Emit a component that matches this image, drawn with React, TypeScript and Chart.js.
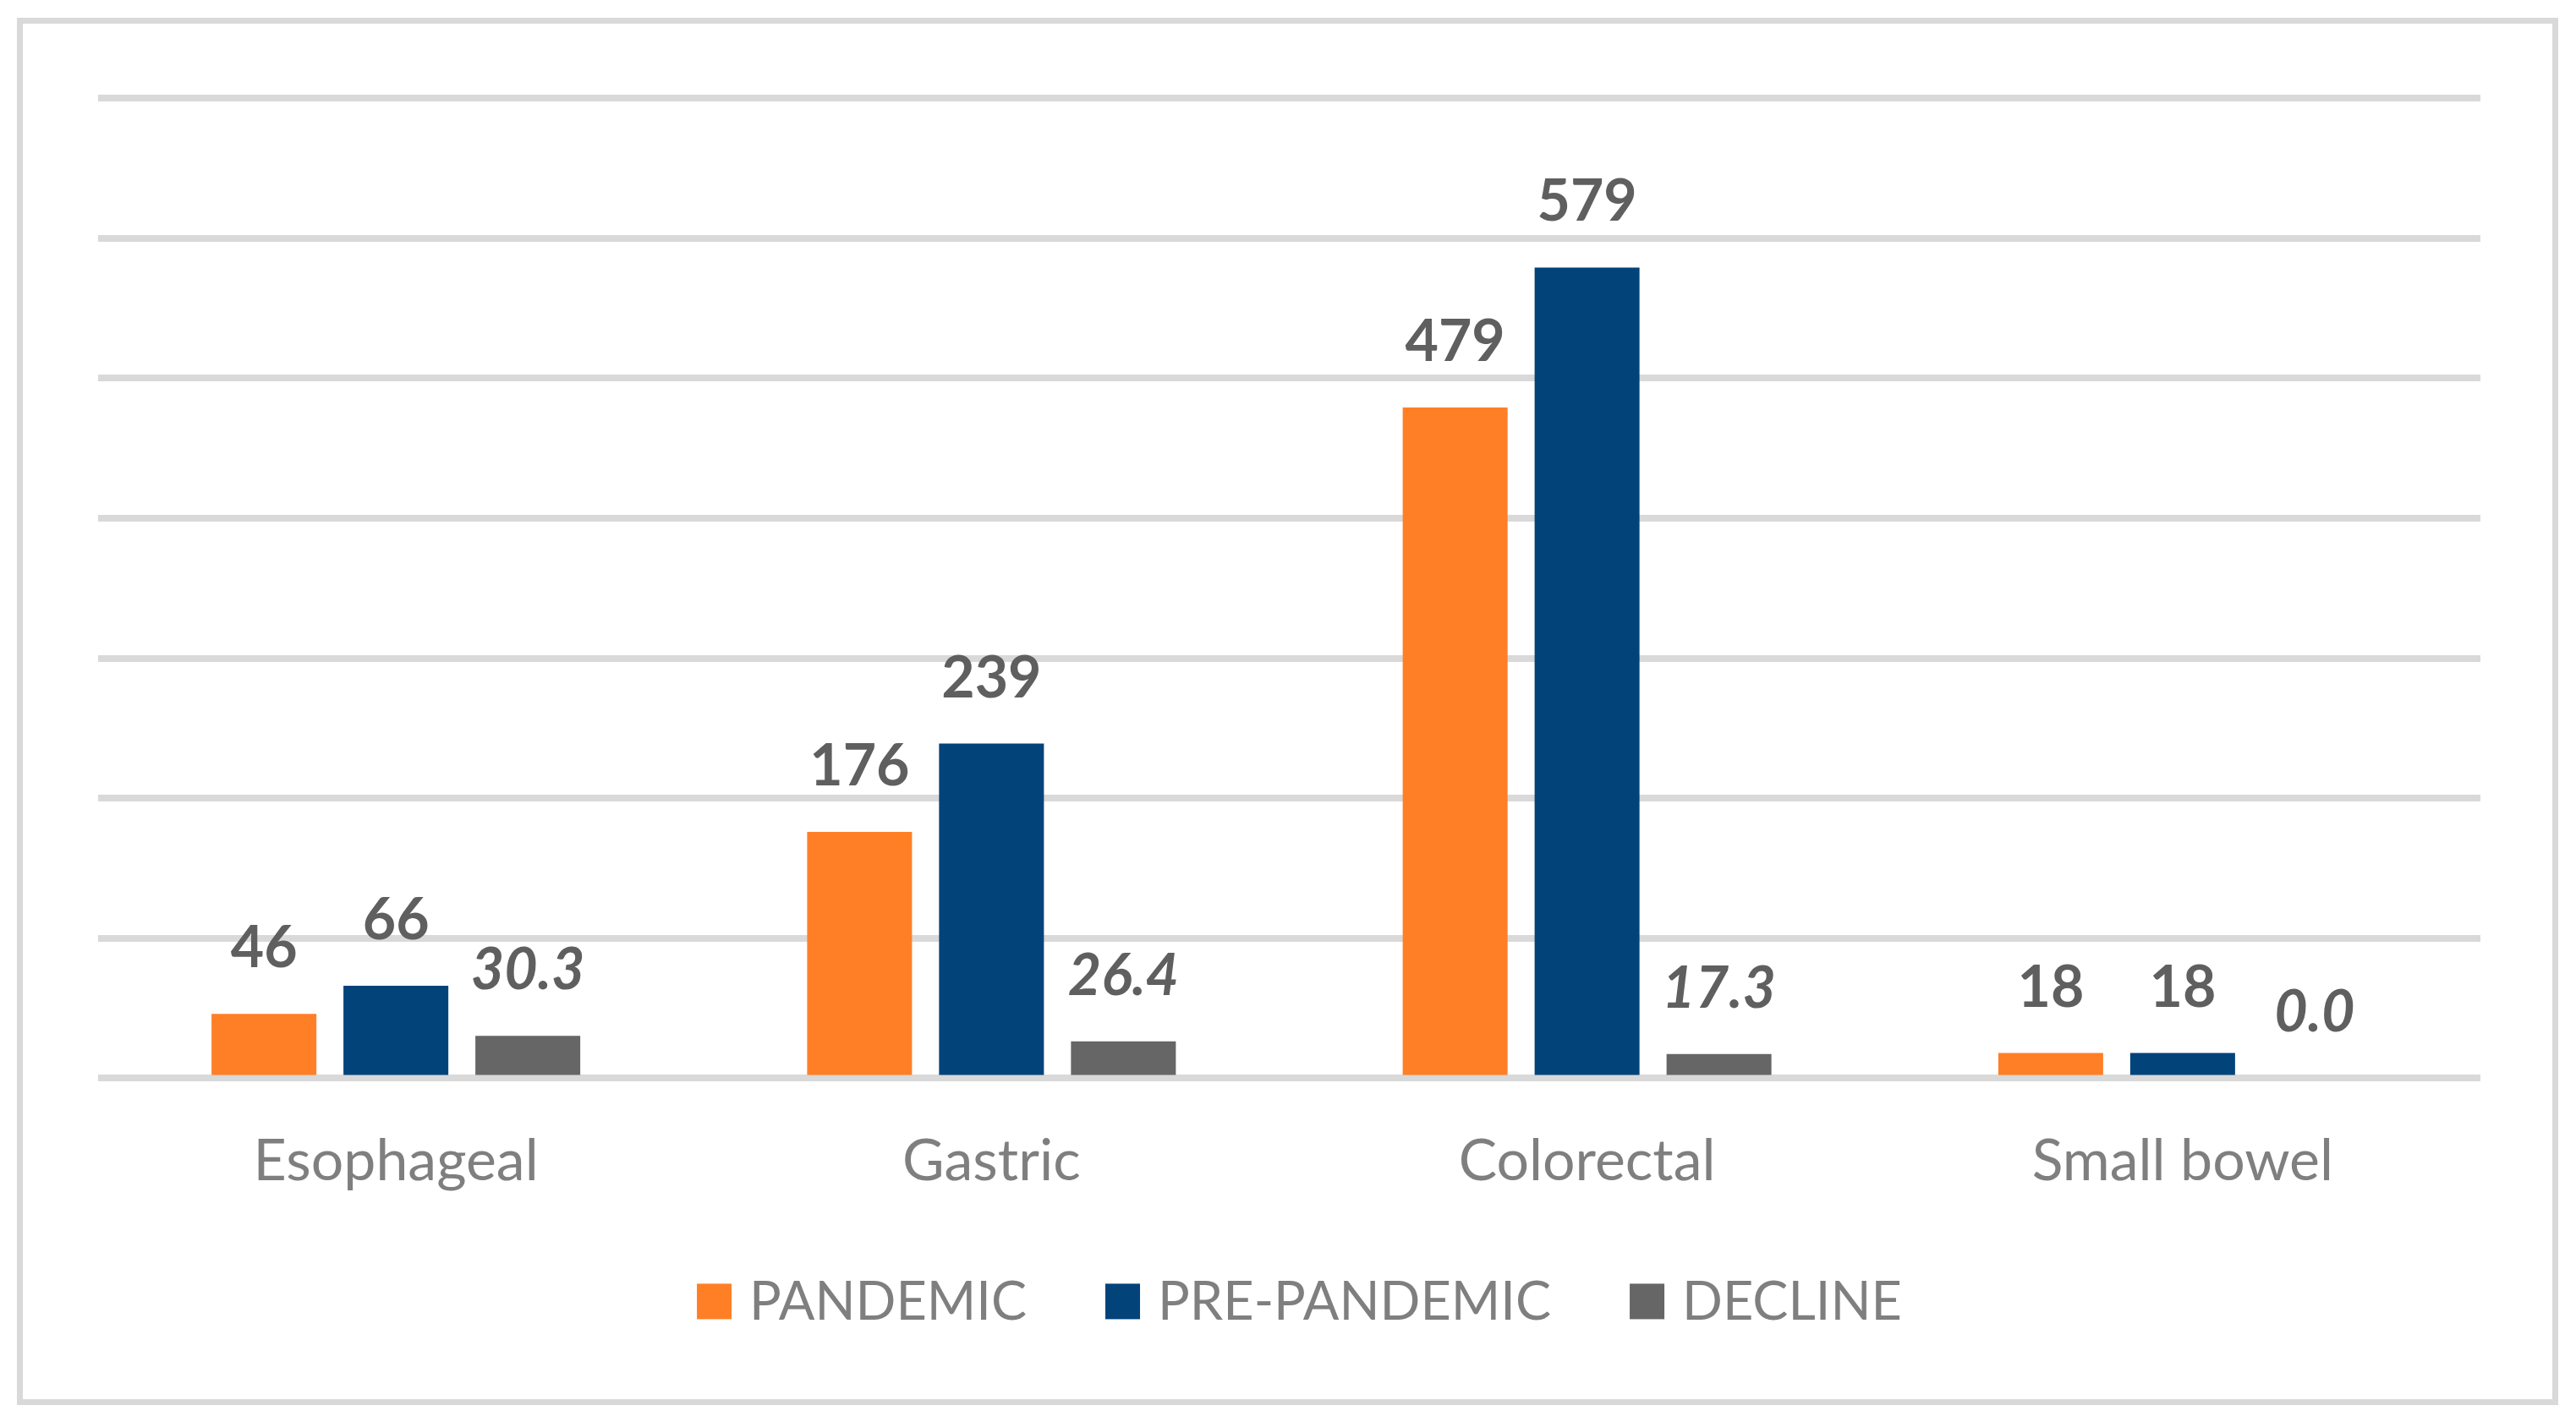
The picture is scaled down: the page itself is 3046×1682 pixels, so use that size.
import React, { useEffect, useRef } from 'react';
import { Chart, registerables } from 'chart.js';

Chart.register(...registerables);

const categories = ['Esophageal', 'Gastric', 'Colorectal', 'Small bowel'];
const pandemic = [46, 176, 479, 18];
const prePandemic = [66, 239, 579, 18];
const decline = [30.3, 26.4, 17.3, 0.0];
const seriesLabels = ['PANDEMIC', 'PRE-PANDEMIC', 'DECLINE'];
const seriesColors = ['#FF7F27', '#02437A', '#666666'];
const decimalsPerSeries = [0, 0, 1];
const italicPerSeries = [false, false, true];
const yMin = 0;
const yMax = 700;
const yStep = 100;

const FONT = 'Lato, "Open Sans", sans-serif';

const chartBorder = {
  id: 'chartBorder',
  beforeDraw(chart: any) {
    const ctx = chart.ctx;
    ctx.save();
    ctx.fillStyle = '#FFFFFF';
    ctx.fillRect(0, 0, chart.width, chart.height);
    ctx.strokeStyle = '#D9D9D9';
    ctx.lineWidth = 7;
    ctx.strokeRect(23.5, 24.5, chart.width - 21 - 23.5 - 3.5, chart.height - 20 - 24.5 - 3.5);
    ctx.restore();
  },
};

const valueLabels = {
  id: 'valueLabels',
  afterDatasetsDraw(chart: any) {
    const ctx = chart.ctx;
    chart.data.datasets.forEach((ds: any, i: number) => {
      const meta = chart.getDatasetMeta(i);
      meta.data.forEach((bar: any, j: number) => {
        const v = ds.data[j] as number;
        const txt = v.toFixed(decimalsPerSeries[i]);
        ctx.save();
        ctx.font = (italicPerSeries[i] ? 'italic ' : '') + 'bold 68px ' + FONT;
        ctx.fillStyle = '#5F5F5F';
        ctx.textAlign = 'center';
        ctx.textBaseline = 'alphabetic';
        ctx.fillText(txt, bar.x, bar.y - 55);
        ctx.restore();
      });
    });
  },
};

const customLegend = {
  id: 'customLegend',
  afterDraw(chart: any) {
    const ctx = chart.ctx;
    const area = chart.chartArea;
    const box = 41;
    const gapText = 21;
    const gapItem = 93;
    ctx.save();
    ctx.font = '63px ' + FONT;
    const items = chart.data.datasets.map((ds: any) => ({
      label: ds.label as string,
      color: ds.backgroundColor as string,
      w: ctx.measureText(ds.label).width,
    }));
    const total =
      items.reduce((a: number, it: any) => a + box + gapText + it.w, 0) + gapItem * (items.length - 1);
    let x = (area.left + area.right) / 2 + 12 - total / 2;
    const boxTop = area.bottom + 243;
    const baseY = area.bottom + 286;
    items.forEach((it: any) => {
      ctx.fillStyle = it.color;
      ctx.fillRect(x, boxTop, box, box + 1);
      ctx.fillStyle = '#7F7F7F';
      ctx.textAlign = 'left';
      ctx.textBaseline = 'alphabetic';
      ctx.fillText(it.label, x + box + gapText, baseY);
      x += box + gapText + it.w + gapItem;
    });
    ctx.restore();
  },
};

export default function App() {
  const canvasRef = useRef<HTMLCanvasElement | null>(null);

  useEffect(() => {
    const canvas = canvasRef.current;
    if (!canvas) return;
    const seriesData = [pandemic, prePandemic, decline];
    const chart = new Chart(canvas, {
      type: 'bar',
      data: {
        labels: categories,
        datasets: seriesLabels.map((label, i) => ({
          label,
          data: seriesData[i],
          backgroundColor: seriesColors[i],
          borderWidth: 0,
          categoryPercentage: 0.6645,
          barPercentage: 0.795,
        })),
      },
      options: {
        responsive: false,
        animation: false,
        devicePixelRatio: 1,
        layout: { padding: { left: 116, right: 113, top: 116, bottom: 209 } },
        plugins: {
          legend: { display: false },
          tooltip: { enabled: false },
          title: { display: false },
        },
        scales: {
          x: {
            grid: { display: false, drawTicks: false },
            border: { display: false },
            ticks: {
              color: '#7F7F7F',
              font: { family: FONT, size: 68 },
              padding: 58,
              maxRotation: 0,
              autoSkip: false,
            },
          },
          y: {
            min: yMin,
            max: yMax,
            grid: { color: '#D9D9D9', lineWidth: 8, drawTicks: false },
            border: { display: false },
            ticks: { display: false, stepSize: yStep },
          },
        },
      },
      plugins: [chartBorder, valueLabels, customLegend],
    });
    return () => chart.destroy();
  }, []);

  return (
    <div style={{ position: 'absolute', left: 0, top: 0, width: 3046, height: 1682, background: '#fff' }}>
      <canvas ref={canvasRef} width={3046} height={1682} style={{ display: 'block' }} />
    </div>
  );
}
